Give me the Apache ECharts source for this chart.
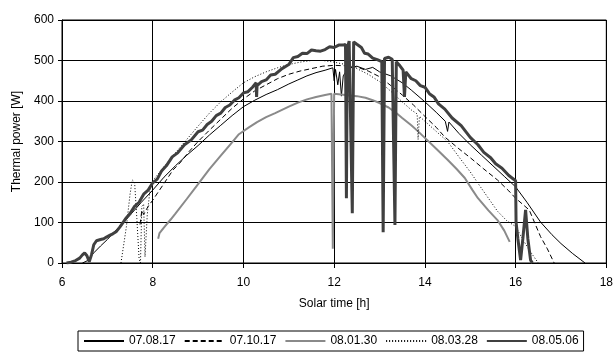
<!DOCTYPE html>
<html>
<head>
<meta charset="utf-8">
<script src="https://cdn.jsdelivr.net/npm/echarts@6/dist/echarts.min.js"></script>
<style>html,body{margin:0;padding:0;background:#fff}#c{width:616px;height:354px}</style>
</head>
<body>
<div id="c"></div>
<script>
var seriesNames = ['07.08.17', '07.10.17', '08.01.30', '08.03.28', '08.05.06'];
var xTicks = [6, 8, 10, 12, 14, 16, 18];
var yTicks = [0, 100, 200, 300, 400, 500, 600];

var t_070817 = [6.45,6.55,6.7,6.85,7.0,7.2,7.34,7.5,7.75,8.0,8.25,8.5,8.75,9.0,9.25,9.5,9.75,10.0,10.25,10.5,10.75,11.0,11.2,11.4,11.6,11.8,11.97,12.0,12.03,12.08,12.12,12.16,12.2,12.3,12.5,12.69,12.85,13.0,13.25,13.5,13.7,14.0,14.25,14.45,14.5,14.53,14.75,15.0,15.25,15.5,15.75,16.0,16.25,16.55,16.8,17.0,17.25,17.53];
var p_070817 = [0,5,25,42,58,82,99,118,150,180,212,240,266,290,316,340,364,386,402,416,428,442,452,462,470,476,482,450,478,440,472,412,462,480,486,478,483,472,462,445,427,398,372,350,325,348,320,292,266,240,214,188,150,101,70,48,24,0];

var t_071017 = [7.72,7.76,7.8,7.9,8.0,8.15,8.3,8.45,8.6,8.8,9.0,9.25,9.5,9.75,10.0,10.25,10.5,10.75,11.0,11.25,11.5,11.75,12.0,12.25,12.5,12.75,13.0,13.25,13.5,13.75,14.0,14.25,14.44,14.75,15.0,15.3,15.6,15.85,16.0,16.3,16.55,16.7,16.85];
var p_071017 = [95,130,120,140,155,180,205,230,247,275,300,328,355,382,405,425,440,455,466,474,480,486,488,487,484,474,460,438,415,390,362,335,311,282,260,232,205,178,160,131,65,35,0];

var t_080130 = [8.12,8.15,8.25,8.4,8.5,8.75,9.0,9.25,9.5,9.75,9.9,10.12,10.3,10.5,10.7,10.85,11.0,11.2,11.4,11.6,11.8,11.94,11.97,12.0,12.15,12.3,12.5,12.69,12.85,13.0,13.2,13.35,13.5,13.7,13.85,14.0,14.25,14.5,14.7,14.88,15.05,15.17,15.4,15.6,15.75,15.87];
var p_080130 = [60,74,88,108,122,158,195,232,265,298,318,335,348,360,370,378,386,396,404,410,415,418,35,418,416,414,412,408,402,395,384,372,358,340,325,309,282,255,232,210,180,160,130,106,80,52];

var t_080328 = [7.3,7.42,7.5,7.55,7.6,7.65,7.7,7.73,7.76,7.8,7.83,7.88,7.95,8.0,8.25,8.5,8.75,9.0,9.25,9.5,9.75,10.0,10.25,10.5,10.75,11.0,11.25,11.5,11.75,12.0,12.25,12.5,12.75,13.0,13.25,13.5,13.7,13.83,13.85,13.88,14.0,14.25,14.5,14.75,15.0,15.2,15.4,15.6,15.8,16.0,16.15,16.3,16.5];
var p_080328 = [0,90,170,205,200,110,10,0,140,145,15,120,190,203,238,272,305,338,370,398,422,445,460,472,482,490,496,500,500,496,490,480,466,448,424,398,378,368,305,362,350,325,300,262,225,192,160,128,105,90,60,32,0];

var t_080506 = [6.1,6.2,6.3,6.39,6.45,6.5,6.55,6.6,6.65,6.7,6.76,6.85,6.92,6.98,7.05,7.12,7.2,7.27,7.34,7.42,7.5,7.6,7.7,7.8,7.9,8.0,8.1,8.2,8.3,8.43,8.55,8.7,8.85,9.0,9.1,9.2,9.3,9.4,9.5,9.6,9.7,9.8,9.9,10.0,10.1,10.2,10.28,10.29,10.3,10.4,10.5,10.6,10.7,10.85,11.0,11.1,11.2,11.3,11.4,11.5,11.6,11.7,11.8,11.9,12.0,12.1,12.2,12.25,12.27,12.29,12.33,12.37,12.4,12.43,12.5,12.6,12.67,12.75,12.85,12.95,13.05,13.08,13.11,13.2,13.28,13.34,13.37,13.45,13.52,13.55,13.58,13.7,13.8,13.9,14.0,14.1,14.2,14.3,14.44,14.6,14.8,15.0,15.17,15.3,15.45,15.56,15.7,15.85,16.0,16.01,16.05,16.11,16.16,16.22,16.27,16.33,16.37];
var p_080506 = [0,2,6,12,20,25,18,3,20,45,55,58,60,64,68,72,78,88,99,112,122,140,150,170,180,198,207,228,240,262,272,292,304,324,328,342,350,364,370,384,390,402,408,420,423,434,445,410,438,448,452,464,466,480,490,507,510,518,517,526,524,523,527,534,532,538,538,540,160,530,548,551,123,546,540,532,518,516,506,502,497,76,505,508,503,94,497,487,476,410,472,455,450,438,434,418,410,393,380,358,339,310,292,273,260,245,234,216,203,101,60,7,60,131,60,7,0];

function pairs(t, p) { return t.map(function (x, i) { return [x, p[i]]; }); }

var font = 'Liberation Sans, Arial, sans-serif';
var chart = echarts.init(document.getElementById('c'), null, {renderer: 'canvas'});

var styles = [
  {color: '#000000', width: 1, type: 'solid'},
  {color: '#000000', width: 1, type: [5, 3]},
  {color: '#8a8a8a', width: 2, type: 'solid'},
  {color: '#000000', width: 1, type: [1, 2]},
  {color: '#404040', width: 3, type: 'solid'}
];
var datas = [pairs(t_070817, p_070817), pairs(t_071017, p_071017), pairs(t_080130, p_080130), pairs(t_080328, p_080328), pairs(t_080506, p_080506)];

chart.setOption({
  animation: false,
  backgroundColor: '#ffffff',
  textStyle: {fontFamily: font},
  grid: {left: 62, right: 7, top: 20, bottom: 91, show: true, borderColor: '#000', borderWidth: 1, backgroundColor: '#fff'},
  legend: {
    data: seriesNames,
    left: 78, top: 331,
    itemWidth: 40, itemHeight: 10, itemGap: 8,
    padding: [4, 5, 4, 5],
    borderColor: '#000', borderWidth: 1,
    itemStyle: {opacity: 0},
    textStyle: {fontFamily: font, fontSize: 12, color: '#000'}
  },
  xAxis: {
    type: 'value', min: xTicks[0], max: xTicks[xTicks.length - 1], interval: 2,
    name: 'Solar time [h]', nameLocation: 'middle', nameGap: 35,
    nameTextStyle: {fontFamily: font, fontSize: 12, color: '#000'},
    axisLine: {show: true, lineStyle: {color: '#000', width: 1}},
    axisTick: {show: true, length: 5, lineStyle: {color: '#000'}},
    axisLabel: {margin: 14, fontFamily: font, fontSize: 12, color: '#000'},
    splitLine: {show: true, lineStyle: {color: '#000', width: 1}}
  },
  yAxis: {
    type: 'value', min: yTicks[0], max: yTicks[yTicks.length - 1], interval: 100,
    name: 'Thermal power [W]', nameLocation: 'middle', nameGap: 38, nameRotate: 90,
    nameTextStyle: {fontFamily: font, fontSize: 12, color: '#000'},
    axisLine: {show: true, lineStyle: {color: '#000', width: 1}},
    axisTick: {show: true, length: 4, lineStyle: {color: '#000'}},
    axisLabel: {margin: 8, fontFamily: font, fontSize: 12, color: '#000'},
    splitLine: {show: true, lineStyle: {color: '#000', width: 1}}
  },
  series: seriesNames.map(function (n, i) {
    return {
      name: n, type: 'line', data: datas[i], symbol: 'none', showSymbol: false,
      lineStyle: styles[i], itemStyle: {color: styles[i].color},
      z: 2 + i
    };
  })
});
</script>
</body>
</html>
